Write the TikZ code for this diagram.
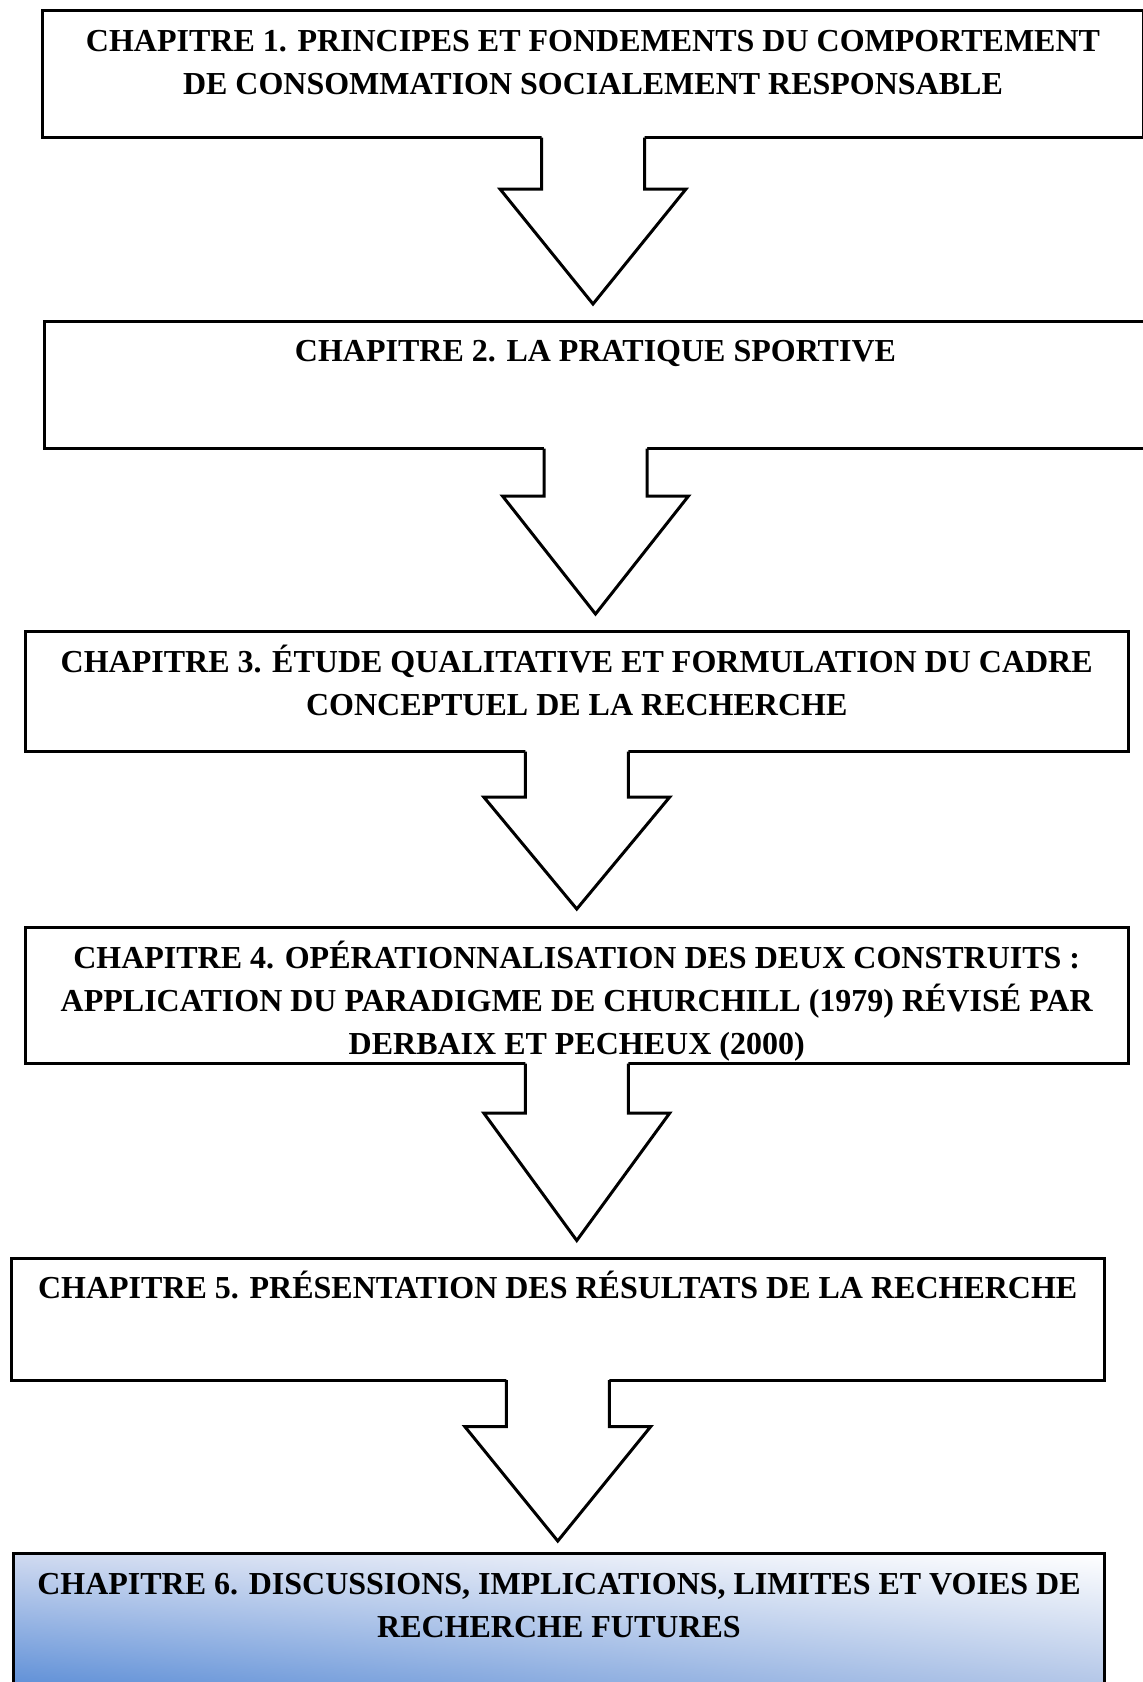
\documentclass[tikz,border=0pt]{standalone}
\usepackage{fontspec}
\setmainfont{Liberation Serif}
\usetikzlibrary{calc,shadings}
\definecolor{gUL}{HTML}{D0DAF0}
\definecolor{gUR}{HTML}{FFFFFF}
\definecolor{gLL}{HTML}{5086D4}
\definecolor{gLR}{HTML}{A8BEE4}
\tikzset{
  chapbox/.style={draw=black, line width=3pt, fill=white, rectangle, inner sep=0pt, anchor=north west},
  chaptext/.style={anchor=north, inner sep=0pt, font=\fontsize{32}{43}\selectfont\bfseries, align=center},
  arrowline/.style={draw=black, line width=3pt, line join=miter},
}
\newcommand\firstline{\rule{0pt}{30pt}}
% #1 from box, #2 to box, #3 stem length, #4 gap above next box
\newcommand\chaparrow[4]{%
  \fill[white] ([xshift=-51.5pt,yshift=3pt]#1.south) -- ([xshift=-51.5pt,yshift=-#3pt]#1.south)
    -- ([xshift=-93pt,yshift=-#3pt]#1.south) -- ([yshift=#4pt]#1.south |- #2.north)
    -- ([xshift=93pt,yshift=-#3pt]#1.south) -- ([xshift=51.5pt,yshift=-#3pt]#1.south)
    -- ([xshift=51.5pt,yshift=3pt]#1.south) -- cycle;
  \draw[arrowline] ([xshift=-51.5pt,yshift=1.5pt]#1.south) -- ([xshift=-51.5pt,yshift=-#3pt]#1.south)
    -- ([xshift=-93pt,yshift=-#3pt]#1.south) -- ([yshift=#4pt]#1.south |- #2.north)
    -- ([xshift=93pt,yshift=-#3pt]#1.south) -- ([xshift=51.5pt,yshift=-#3pt]#1.south)
    -- ([xshift=51.5pt,yshift=1.5pt]#1.south);
}
\begin{document}
\begin{tikzpicture}[x=1pt,y=-1pt]
\useasboundingbox (0,0) rectangle (1143,1682);
\clip (0,0) rectangle (1143,1682);
\fill[white] (0,0) rectangle (1143,1682);

\node[chapbox, minimum width=1101pt, minimum height=127pt] (b1) at (41,9) {};
\node[chapbox, minimum width=1102pt, minimum height=127.5pt] (b2) at (43,319.5) {};
\node[chapbox, minimum width=1103.5pt, minimum height=120pt] (b3) at (23.5,630) {};
\node[chapbox, minimum width=1103.5pt, minimum height=136pt] (b4) at (23.5,926) {};
\node[chapbox, minimum width=1093.5pt, minimum height=122pt] (b5) at (9.5,1256.5) {};
\node[chapbox, fill=none, minimum width=1091pt, minimum height=150pt,
      upper left=gUL, upper right=gUR, lower left=gLL, lower right=gLR] (b6) at (12,1552) {};

\chaparrow{b1}{b2}{50}{15.5}
\chaparrow{b2}{b3}{46}{16}
\chaparrow{b3}{b4}{44}{17}
\chaparrow{b4}{b5}{48}{16}
\chaparrow{b5}{b6}{45}{11}

\node[chaptext] (t1) at ([yshift=-12pt]b1.north) {\firstline CHAPITRE 1. PRINCIPES ET FONDEMENTS DU COMPORTEMENT\\DE CONSOMMATION SOCIALEMENT RESPONSABLE};
\node[chaptext] (t2) at ([yshift=-12pt]b2.north) {\firstline CHAPITRE 2. LA PRATIQUE SPORTIVE};
\node[chaptext] (t3) at ([yshift=-12pt]b3.north) {\firstline CHAPITRE 3. ÉTUDE QUALITATIVE ET FORMULATION DU CADRE\\CONCEPTUEL DE LA RECHERCHE};
\node[chaptext] (t4) at ([yshift=-12pt]b4.north) {\firstline CHAPITRE 4. OPÉRATIONNALISATION DES DEUX CONSTRUITS :\\APPLICATION DU PARADIGME DE CHURCHILL (1979) RÉVISÉ PAR\\DERBAIX ET PECHEUX (2000)};
\node[chaptext] (t5) at ([yshift=-12pt]b5.north) {\firstline CHAPITRE 5. PRÉSENTATION DES RÉSULTATS DE LA RECHERCHE};
\node[chaptext] (t6) at ([yshift=-12pt]b6.north) {\firstline CHAPITRE 6. DISCUSSIONS, IMPLICATIONS, LIMITES ET VOIES DE\\RECHERCHE FUTURES};
\end{tikzpicture}
\end{document}
